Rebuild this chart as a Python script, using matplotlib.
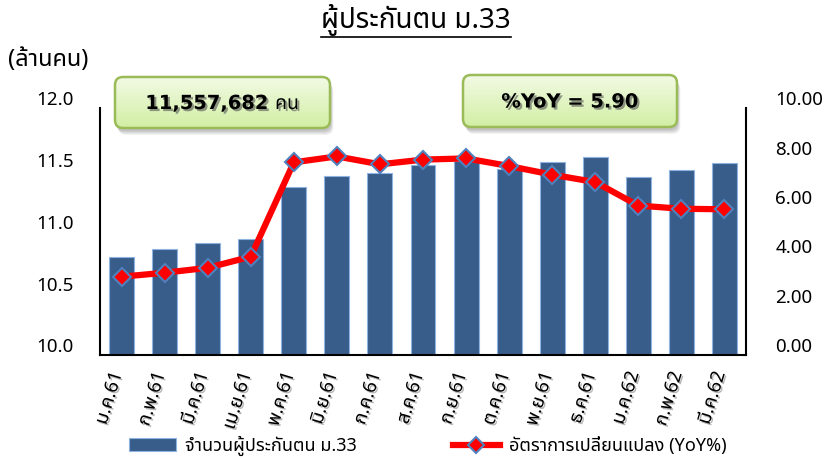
import numpy as np
import matplotlib
matplotlib.use('Agg')
import matplotlib.pyplot as plt
import matplotlib.patheffects as pe
import matplotlib.transforms as mtransforms
from matplotlib import font_manager
from matplotlib.ft2font import FT2Font
from matplotlib.patches import FancyBboxPatch
from matplotlib.colors import LinearSegmentedColormap

# ข้อมูล (ค่าอ่านจากกราฟ)
months = ['ม.ค.61', 'ก.พ.61', 'มี.ค.61', 'เม.ย.61', 'พ.ค.61', 'มิ.ย.61', 'ก.ค.61', 'ส.ค.61',
          'ก.ย.61', 'ต.ค.61', 'พ.ย.61', 'ธ.ค.61', 'ม.ค.62', 'ก.พ.62', 'มี.ค.62']
insured = [10.79, 10.86, 10.91, 10.94, 11.36, 11.45, 11.47, 11.54,
           11.57, 11.51, 11.565, 11.60, 11.44, 11.50, 11.557682]   # ล้านคน
yoy = [3.17, 3.33, 3.53, 3.98, 7.80, 8.04, 7.72, 7.91,
       7.96, 7.65, 7.30, 7.00, 6.05, 5.92, 5.90]                   # %
left_ticks = [10.0, 10.5, 11.0, 11.5, 12.0]
right_ticks = [0, 2, 4, 6, 8, 10]
title = 'ผู้ประกันตน ม.33'
unit_label = '(ล้านคน)'
bar_label = 'จำนวนผู้ประกันตน ม.33'
line_label = 'อัตราการเปลี่ยนแปลง (YoY%)'
total_text = '11,557,682 คน'
yoy_text = '%YoY = 5.90'


def find_thai_font():
    # หาฟอนต์ที่มีอักษรไทย
    preferred = ['Noto Sans Thai', 'Noto Sans Thai Looped', 'Noto Serif Thai', 'Loma', 'Garuda',
                 'Waree', 'Sawasdee', 'Laksaman', 'Kinnari', 'Norasi', 'Tlwg Typo']
    found = {}
    for f in font_manager.fontManager.ttflist:
        if f.name in found:
            continue
        try:
            cmap = FT2Font(f.fname).get_charmap()
        except Exception:
            continue
        if 0x0E1C in cmap and 0x0E19 in cmap:
            found[f.name] = f.fname
    for name in preferred:
        if name in found:
            return name
    return next(iter(found), None)


th = find_thai_font()
thai_fam = [th, 'DejaVu Sans'] if th else ['DejaVu Sans']
bold_fam = ['DejaVu Sans', th] if th else ['DejaVu Sans']
plt.rcParams['font.family'] = thai_fam

W, H = 833, 459
fig = plt.figure(figsize=(W / 100, H / 100), dpi=100)
ax = fig.add_axes([100 / W, 1 - 355 / H, 646 / W, 247 / H])
x = np.arange(len(months))

bars = ax.bar(x, insured, width=0.58, color='#385D8A', edgecolor='#8DB3E2',
              linewidth=0.8, label=bar_label)
ax.set_ylim(10, 12)
ax.set_xlim(-0.5, len(months) - 0.5)
ax.set_yticks(left_ticks)
ax.set_yticklabels([f'{v:.1f}' for v in left_ticks], fontsize=13.5)
ax.set_xticks(x)
ax.set_xticklabels(months, rotation=73, ha='right', va='center', rotation_mode='anchor', fontsize=13.5)
ax.tick_params(axis='y', length=0, pad=19)
ax.tick_params(axis='x', length=0, pad=12)

ax2 = ax.twinx()
line, = ax2.plot(x, yoy, color='#FF0000', lw=4.5, marker='D', ms=9.5, mfc='#FF0000',
                 mec='#4F81BD', mew=1.5, label=line_label)
ax2.set_ylim(0, 10)
ax2.set_yticks(right_ticks)
ax2.set_yticklabels([f'{v:.2f}' for v in right_ticks], fontsize=13.5)
ax2.tick_params(axis='y', length=0, pad=21)

for a in (ax, ax2):
    a.spines['top'].set_visible(False)
ax.spines['right'].set_visible(False)
ax2.spines['left'].set_visible(False)
ax2.spines['bottom'].set_visible(False)
for s in (ax.spines['left'], ax.spines['bottom'], ax2.spines['right']):
    s.set_linewidth(1.5)
    s.set_color('black')

# ตัวเลขแกน y ในภาพต้นฉบับอยู่สูงกว่าตำแหน่งจริงเล็กน้อย
up = mtransforms.ScaledTranslation(0, 7 / 72, fig.dpi_scale_trans)
for lab in ax.get_yticklabels() + ax2.get_yticklabels():
    lab.set_transform(lab.get_transform() + up)
shadow = [pe.withSimplePatchShadow(offset=(1.2, -1.2), shadow_rgbFace='#999999', alpha=0.7)]
left_shift = mtransforms.ScaledTranslation(-3 / 72, 0, fig.dpi_scale_trans)
for lab in ax.get_xticklabels():
    lab.set_transform(lab.get_transform() + left_shift)
    lab.set_path_effects(shadow)

# ชั้นบนสุดใช้พิกัดพิกเซล
ov = fig.add_axes([0, 0, 1, 1], zorder=5)
ov.axis('off')
cmap = LinearSegmentedColormap.from_list('g', ['#F2FAE4', '#D2EFA4'])


def green_box(x0, y0, x1, y1, text):
    w, h = x1 - x0, y1 - y0
    style = 'round,pad=0,rounding_size=8'
    for i in range(5):
        ov.add_patch(FancyBboxPatch((x0 + 1 + i * 0.6, y0 + 3 + i), w, h, boxstyle=style,
                                    fc='black', ec='none', alpha=0.05, zorder=0))
    box = FancyBboxPatch((x0, y0), w, h, boxstyle=style, fc='none', ec='#9BBB59', lw=1.8, zorder=2)
    ov.add_patch(box)
    grad = np.linspace(0, 1, 64).reshape(-1, 1)
    im = ov.imshow(grad, cmap=cmap, extent=(x0, x1, y1, y0), origin='upper', aspect='auto', zorder=1)
    im.set_clip_path(box)
    ov.text((x0 + x1) / 2, (y0 + y1) / 2 + 1, text, ha='center', va='center', fontsize=14,
            fontweight='bold', family=bold_fam, zorder=3,
            path_effects=[pe.withSimplePatchShadow(offset=(1.5, -1.5), shadow_rgbFace='#555555', alpha=0.6)])


green_box(115, 77, 330, 128, total_text)
green_box(463, 75, 677, 127, yoy_text)
ov.set_xlim(0, W)
ov.set_ylim(H, 0)

t = ov.text(416, 20, title, ha='center', va='center', fontsize=20, zorder=3)
ov.text(8, 60, unit_label, ha='left', va='center', fontsize=17, zorder=3)

fig.canvas.draw()
bb = t.get_window_extent(fig.canvas.get_renderer())
inv = ov.transData.inverted()
(ux0, uy0), (ux1, uy1) = inv.transform([(bb.x0, bb.y0), (bb.x1, bb.y0)])
ov.plot([ux0, ux1], [uy0 + 1, uy1 + 1], color='black', lw=1.2, zorder=3)
ov.set_xlim(0, W)
ov.set_ylim(H, 0)

fig.legend(handles=[bars, line], loc='center left', bbox_to_anchor=(122 / W, 1 - 446 / H),
           ncol=2, frameon=False, fontsize=13, handlelength=2.6, handletextpad=0.5,
           columnspacing=5.3, borderaxespad=0, markerscale=0.9)

fig.savefig('out.png', dpi=100)
